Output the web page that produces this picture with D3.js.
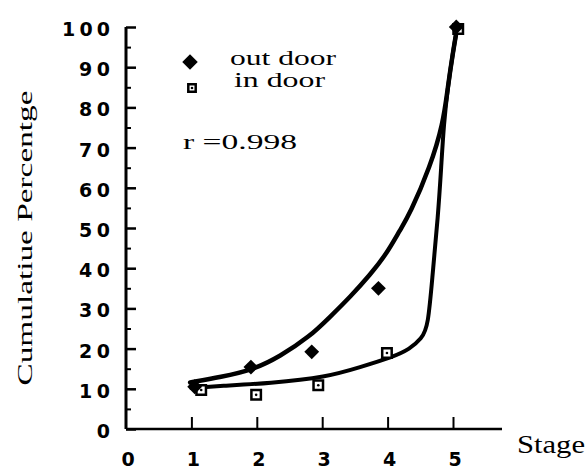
<!DOCTYPE html>
<html>
<head>
<meta charset="utf-8">
<script src="https://cdn.jsdelivr.net/npm/d3@7"></script>
<style>
  body { margin: 0; background: #fff; }
  svg { display: block; }
  .serif { font-family: "Liberation Serif", "Times New Roman", "DejaVu Serif", serif; }
  .bold { font-family: "DejaVu Sans", "Liberation Sans", sans-serif; font-weight: bold; font-size: 19px; }
</style>
</head>
<body>
<div id="chart"></div>
<script>
// measured points (stage, cumulative %)
var outdoorX = [1.05, 1.91, 2.84, 3.86, 5.05];
var outdoorY = [10.5, 15.4, 19.2, 35.0, 100];
var indoorX = [1.15, 1.99, 2.94, 3.99, 5.08];
var indoorY = [9.7, 8.5, 10.9, 18.9, 99.5];

// fitted curves
var outFitX = [0.98, 1.45, 1.94, 2.35, 2.81, 3.12, 3.43, 3.73, 3.99, 4.19, 4.34, 4.65, 4.85, 4.92, 5.0, 5.06];
var outFitY = [11.6, 12.9, 14.7, 18.0, 23.0, 27.9, 32.9, 38.3, 43.7, 49.5, 53.5, 65.2, 76, 85, 93.8, 99.5];
var inFitX = [1.0, 1.44, 2.2, 3.07, 3.58, 4.08, 4.34, 4.52, 4.62, 4.69, 4.77, 4.82, 4.86, 4.92, 5.0, 5.06];
var inFitY = [10.2, 10.7, 11.4, 12.9, 15.4, 17.9, 19.9, 22.5, 25.4, 39, 52.7, 65.2, 76, 85, 93.8, 99.5];

var xTicks = [0, 1, 2, 3, 4, 5];
var yTicks = [0, 10, 20, 30, 40, 50, 60, 70, 80, 90, 100];
var yMinor = [5, 15, 25, 35, 45, 55, 65, 75, 85, 95];

var legendLabels = ["out door", "in door"];
var rText = "r =0.998";

var width = 588, height = 470;

var svg = d3.select("#chart").append("svg")
  .attr("width", width)
  .attr("height", height);

var x = d3.scaleLinear().domain([0, 5]).range([126, 453]);
var y = d3.scaleLinear().domain([0, 100]).range([429, 27]);

var zip = function (xs, ys) { return xs.map(function (v, i) { return [v, ys[i]]; }); };

// y axis: line + inward ticks
svg.append("g").attr("transform", "translate(126,0)")
  .call(d3.axisRight(y).tickValues(yTicks).tickSize(10).tickFormat(""))
  .call(function (g) {
    g.select(".domain").attr("d", "M0," + y(100) + "V" + y(0)).attr("stroke-width", 3);
    g.selectAll(".tick line").attr("stroke-width", 2.5);
  });
svg.append("g").attr("transform", "translate(126,0)")
  .call(d3.axisRight(y).tickValues(yMinor).tickSize(5).tickFormat(""))
  .call(function (g) {
    g.select(".domain").remove();
    g.selectAll(".tick line").attr("stroke-width", 2);
  });

// y tick labels (spread out like the original lettering)
svg.append("g").selectAll("text")
  .data(yTicks)
  .enter().append("text")
  .attr("class", "bold")
  .attr("x", 110)
  .attr("y", function (d) { return y(d) + 9; })
  .attr("text-anchor", "end")
  .attr("textLength", function (d) { var n = String(d).length; return n * 14 + (n - 1) * 3; })
  .attr("lengthAdjust", "spacing")
  .text(function (d) { return d; });

// x axis: line + upward ticks
svg.append("g").attr("transform", "translate(0,429)")
  .call(d3.axisTop(x).tickValues(xTicks.slice(1)).tickSize(12).tickFormat(""))
  .call(function (g) {
    g.select(".domain").attr("d", "M126,0H502").attr("stroke-width", 2.5);
    g.selectAll(".tick line").attr("stroke-width", 2);
  });

svg.append("g").selectAll("text")
  .data(xTicks)
  .enter().append("text")
  .attr("class", "bold")
  .attr("x", function (d) { return x(d) + 2; })
  .attr("y", 466)
  .attr("text-anchor", "middle")
  .text(function (d) { return d; });

// axis titles
svg.append("text")
  .attr("class", "serif")
  .attr("x", 517).attr("y", 453)
  .attr("textLength", 68)
  .attr("lengthAdjust", "spacingAndGlyphs")
  .style("font-size", "25px")
  .text("Stage");

svg.append("text")
  .attr("class", "serif")
  .attr("transform", "translate(32,238) rotate(-90)")
  .attr("text-anchor", "middle")
  .attr("textLength", 295)
  .attr("lengthAdjust", "spacingAndGlyphs")
  .style("font-size", "22px")
  .text("Cumulatiue Percentge");

// fitted curves
var line = d3.line()
  .x(function (d) { return x(d[0]); })
  .y(function (d) { return y(d[1]); })
  .curve(d3.curveBasis);

svg.append("path")
  .datum(zip(outFitX, outFitY))
  .attr("d", line)
  .attr("fill", "none")
  .attr("stroke", "#000")
  .attr("stroke-width", 4.5)
  .attr("stroke-linecap", "round");

svg.append("path")
  .datum(zip(inFitX, inFitY))
  .attr("d", line)
  .attr("fill", "none")
  .attr("stroke", "#000")
  .attr("stroke-width", 4)
  .attr("stroke-linecap", "round");

// markers
function drawSquare(g, cx, cy, size) {
  g.append("path")
    .attr("d", d3.symbol().type(d3.symbolSquare).size(size)())
    .attr("transform", "translate(" + cx + "," + cy + ")")
    .attr("fill", "#fff")
    .attr("stroke", "#000")
    .attr("stroke-width", 2.5);
  g.append("circle")
    .attr("cx", cx).attr("cy", cy).attr("r", 1.3)
    .attr("fill", "#000");
}

var inG = svg.append("g");
zip(indoorX, indoorY).forEach(function (d) {
  drawSquare(inG, x(d[0]), y(d[1]), 90);
});

svg.append("g").selectAll("path")
  .data(zip(outdoorX, outdoorY))
  .enter().append("path")
  .attr("d", d3.symbol().type(d3.symbolSquare).size(110))
  .attr("transform", function (d) { return "translate(" + x(d[0]) + "," + y(d[1]) + ") rotate(45)"; })
  .attr("fill", "#000");

// legend
var leg = svg.append("g");
leg.append("path")
  .attr("d", d3.symbol().type(d3.symbolSquare).size(120)())
  .attr("transform", "translate(190,62) rotate(45)")
  .attr("fill", "#000");
drawSquare(leg, 192, 88, 55);

leg.selectAll("text.lab")
  .data(legendLabels)
  .enter().append("text")
  .attr("class", "lab serif")
  .attr("x", function (d, i) { return i === 0 ? 230 : 234; })
  .attr("y", function (d, i) { return i === 0 ? 65 : 87; })
  .attr("textLength", function (d, i) { return i === 0 ? 106 : 91; })
  .attr("lengthAdjust", "spacingAndGlyphs")
  .style("font-size", "20px")
  .text(function (d) { return d; });

leg.append("text")
  .attr("class", "serif")
  .attr("x", 183).attr("y", 149)
  .attr("textLength", 114)
  .attr("lengthAdjust", "spacingAndGlyphs")
  .style("font-size", "22px")
  .text(rText);
</script>
</body>
</html>
